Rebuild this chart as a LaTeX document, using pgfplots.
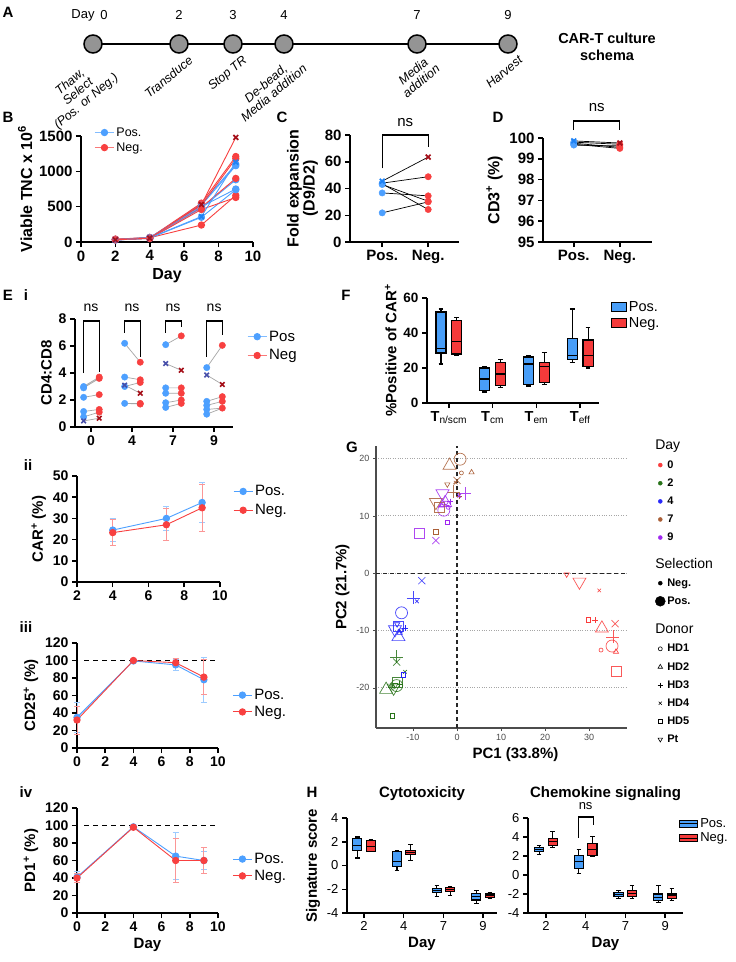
\documentclass[border=0pt]{standalone}
\usepackage{fontspec}
\setmainfont{Liberation Sans}
\usepackage{pgfplots}
\pgfplotsset{compat=1.18}
\usepgfplotslibrary{statistics}

\definecolor{posblue}{RGB}{77,160,255}
\definecolor{negred}{RGB}{248,64,64}
\definecolor{posx}{RGB}{30,130,245}
\definecolor{negx}{RGB}{165,15,25}
\definecolor{eix}{RGB}{72,80,170}
\definecolor{boxblue}{RGB}{72,158,248}
\definecolor{boxred}{RGB}{245,58,58}
\definecolor{gred}{RGB}{250,60,60}
\definecolor{ggreen}{RGB}{40,115,25}
\definecolor{gblue}{RGB}{40,40,250}
\definecolor{gbrown}{RGB}{170,95,55}
\definecolor{gpurple}{RGB}{160,40,240}

\newcommand\fs[1]{\fontsize{#1}{#1}\selectfont}
% box: position, low whisker, q1, median, q3, high whisker, fill
\newcommand\bx[7]{\addplot[boxplot prepared={draw direction=y, draw position=#1,
  lower whisker=#2, lower quartile=#3, median=#4, upper quartile=#5, upper whisker=#6,
  box extend=0.23, whisker extend=0.11}, draw=black, fill=#7, line width=1.1pt,
  forget plot] coordinates {};}

\pgfplotsset{
  prism/.style={
    scale only axis, anchor=south west, clip=false,
    axis lines=left,
    axis line style={line width=1.5pt},
    x axis line style={-}, y axis line style={-},
    tick style={black, line width=1.5pt},
    major tick length=5pt,
    tick align=outside,
    ticklabel style={font=\bfseries\fs{14}},
    label style={font=\bfseries\fs{15}},
    /pgf/number format/assume math mode=true,
    /pgf/number format/1000 sep={},
    legend style={draw=none, fill=none, font=\fs{15}, row sep=3pt},
    legend cell align=left,
    legend image code/.code={\draw[mark repeat=2,mark phase=2]
      plot coordinates {(0pt,0pt)(9.5pt,0pt)(19pt,0pt)};},
  },
  big/.style={ticklabel style={font=\bfseries\fs{15}}, label style={font=\bfseries\fs{16}}},
  pos/.style={posblue, line width=0.9pt, mark=*, mark size=3.2pt},
  neg/.style={negred, line width=0.9pt, mark=*, mark size=3.2pt},
  posX/.style={posblue, line width=0.9pt, mark=x, mark size=3.4pt,
    mark options={posx, line width=1.7pt}},
  negX/.style={negred, line width=0.9pt, mark=x, mark size=3.4pt,
    mark options={negx, line width=1.7pt}},
  legpos/.style={posblue!70, line width=0.9pt, mark=*, mark size=3.2pt, mark options={posblue}},
  legneg/.style={negred!70, line width=0.9pt, mark=*, mark size=3.2pt, mark options={negred}},
  ebpos/.style={error bars/.cd, y dir=both, y explicit,
    error bar style={posblue!55, line width=0.9pt},
    error mark options={rotate=90, posblue!55, mark size=3pt, line width=0.9pt}},
  ebneg/.style={error bars/.cd, y dir=both, y explicit,
    error bar style={negred!55, line width=0.9pt},
    error mark options={rotate=90, negred!55, mark size=3pt, line width=0.9pt}},
  gsc/.style={only marks, scatter, scatter src=explicit symbolic, forget plot,
    scatter/classes={d0={gred},d2={ggreen},d4={gblue},d7={gbrown},d9={gpurple}}},
}

\begin{document}
\begin{tikzpicture}
\path[use as bounding box, fill=white] (0pt,0pt) rectangle (736pt,-962pt);

% ---------------- A: schema and panel letters
\begin{scope}[x=1pt,y=-1pt]
\draw[line width=1.6pt] (93,44) -- (508,44);
\foreach \cx in {93,179,233,284,417,508}
  \filldraw[fill=black!42, draw=black, line width=1.5pt] (\cx,44) circle (9pt);
\node[font=\fs{13}] at (83,15) {Day};
\node[font=\fs{13}] at (104,15) {0};
\node[font=\fs{13}] at (179,15) {2};
\node[font=\fs{13}] at (233,15) {3};
\node[font=\fs{13}] at (284,15) {4};
\node[font=\fs{13}] at (417,15) {7};
\node[font=\fs{13}] at (508,15) {9};
\begin{scope}[every node/.style={rotate=40, anchor=north east, align=center,
    font=\itshape\fontsize{12.5}{12.5}\selectfont, inner sep=1pt}]
\node at (97,51) {Thaw,\\Select\\(Pos. or Neg.)};
\node at (188,53) {Transduce};
\node at (242,53) {Stop TR};
\node at (294,52) {De-bead,\\Media addition};
\node at (427,52) {Media\\addition};
\node at (518,53) {Harvest};
\end{scope}
\node[font=\bfseries\fs{14.5}, align=center] at (607,47) {CAR-T culture\\[2pt]schema};

\begin{scope}[every node/.style={font=\bfseries\fs{15}}]
\node at (8,12) {A};
\node at (8,117) {B};
\node at (282,117) {C};
\node at (498,117) {D};
\node at (8,295) {E};
\node at (26,295) {i};
\node at (28,465) {ii};
\node at (26,627) {iii};
\node at (26,792) {iv};
\node at (346,295) {F};
\node at (352,447) {G};
\node at (312,792) {H};
\end{scope}
\end{scope}

% ---------------- B
\begin{axis}[prism, big, at={(81pt,-242pt)}, width=172pt, height=106pt,
  xmin=0, xmax=10, ymin=0, ymax=1500,
  xtick={0,2,4,6,8,10}, ytick={0,500,1000,1500},
  xlabel={Day}, ylabel={Viable TNC x 10\textsuperscript{6}},
  legend style={at={(0.06,1.12)}, anchor=north west, font=\fs{12.5}, row sep=1pt}]
\addlegendimage{legpos}\addlegendentry{Pos.}
\addlegendimage{legneg}\addlegendentry{Neg.}
\addplot[pos, forget plot] coordinates {(2,30)(4,55)(7,540)(9,1100)};
\addplot[neg, forget plot] coordinates {(2,40)(4,60)(7,550)(9,1210)};
\addplot[pos, forget plot] coordinates {(2,35)(4,60)(7,520)(9,1080)};
\addplot[neg, forget plot] coordinates {(2,35)(4,55)(7,520)(9,1180)};
\addplot[pos, forget plot] coordinates {(2,30)(4,50)(7,480)(9,880)};
\addplot[neg, forget plot] coordinates {(2,40)(4,65)(7,490)(9,900)};
\addplot[pos, forget plot] coordinates {(2,35)(4,65)(7,500)(9,750)};
\addplot[neg, forget plot] coordinates {(2,35)(4,60)(7,240)(9,660)};
\addplot[pos, forget plot] coordinates {(2,30)(4,55)(7,350)(9,740)};
\addplot[neg, forget plot] coordinates {(2,30)(4,50)(7,460)(9,630)};
\addplot[posX, forget plot] coordinates {(2,25)(4,60)(7,360)(9,1130)};
\addplot[negX, forget plot] coordinates {(2,30)(4,55)(7,530)(9,1480)};
\end{axis}

% ---------------- C
\begin{axis}[prism, big, at={(350pt,-242pt)}, width=109pt, height=107pt,
  xmin=-0.7, xmax=1.67, ymin=0, ymax=80,
  xtick={0,1}, xticklabels={Pos.,Neg.}, ytick={0,20,40,60,80},
  ylabel={Fold expansion\\(D9/D2)}, ylabel style={align=center}]
\addplot[black, line width=0.7pt] coordinates {(0,45.5)(1,63.5)};
\addplot[black, line width=0.7pt] coordinates {(0,44)(1,48.8)};
\addplot[black, line width=0.7pt] coordinates {(0,43)(1,30.5)};
\addplot[black, line width=0.7pt] coordinates {(0,43.5)(1,24.3)};
\addplot[black, line width=0.7pt] coordinates {(0,36.7)(1,34.5)};
\addplot[black, line width=0.7pt] coordinates {(0,21.8)(1,30)};
\addplot[only marks, mark=*, mark size=3.2pt, posblue] coordinates {(0,44)(0,43)(0,43.5)(0,36.7)(0,21.8)};
\addplot[only marks, mark=*, mark size=3.2pt, negred] coordinates {(1,48.8)(1,30.5)(1,24.3)(1,34.5)(1,30)};
\addplot[only marks, mark=x, mark size=3.4pt, posx, line width=1.7pt] coordinates {(0,45.5)};
\addplot[only marks, mark=x, mark size=3.4pt, negx, line width=1.7pt] coordinates {(1,63.5)};
\draw[line width=1.3pt] (axis cs:0,55) |- (axis cs:1,80) -- (axis cs:1,71);
\node[font=\fs{15}] at (axis cs:0.5,89) {ns};
\end{axis}

% ---------------- D
\begin{axis}[prism, big, at={(543pt,-242pt)}, width=109pt, height=104pt,
  xmin=-0.67, xmax=1.7, ymin=95, ymax=100,
  xtick={0,1}, xticklabels={Pos.,Neg.}, ytick={95,96,97,98,99,100},
  ylabel={CD3\textsuperscript{+} (\%)}]
\addplot[black, line width=0.7pt] coordinates {(0,99.86)(1,99.76)};
\addplot[black, line width=0.7pt] coordinates {(0,99.8)(1,99.7)};
\addplot[black, line width=0.7pt] coordinates {(0,99.75)(1,99.55)};
\addplot[black, line width=0.7pt] coordinates {(0,99.7)(1,99.5)};
\addplot[black, line width=0.7pt] coordinates {(0,99.66)(1,99.62)};
\addplot[only marks, mark=*, mark size=3.2pt, posblue] coordinates {(0,99.8)(0,99.75)(0,99.7)(0,99.66)};
\addplot[only marks, mark=*, mark size=3.2pt, negred] coordinates {(1,99.7)(1,99.55)(1,99.5)(1,99.62)};
\addplot[only marks, mark=x, mark size=3.4pt, posx, line width=1.7pt] coordinates {(0,99.86)};
\addplot[only marks, mark=x, mark size=3.4pt, negx, line width=1.7pt] coordinates {(1,99.76)};
\draw[line width=1.3pt] (axis cs:0,100.38) |- (axis cs:1,100.82) -- (axis cs:1,100.38);
\node[font=\fs{15}] at (axis cs:0.5,101.45) {ns};
\end{axis}

% ---------------- E i
\begin{axis}[prism, at={(75pt,-427pt)}, width=158pt, height=108pt,
  xmin=0.61, xmax=4.46, ymin=0, ymax=8,
  xtick={1,2,3,4}, xticklabels={0,4,7,9}, ytick={0,2,4,6,8},
  ylabel={CD4:CD8},
  legend style={at={(1.07,0.93)}, anchor=north west}]
\addlegendimage{legpos}\addlegendentry{Pos}
\addlegendimage{legneg}\addlegendentry{Neg}
\addplot[black!35, line width=0.7pt, unbounded coords=jump, forget plot] coordinates {
  (0.82,3.0)(1.2,3.7) (nan,nan) (0.82,2.9)(1.2,3.6) (nan,nan) (0.82,2.2)(1.2,2.4) (nan,nan)
  (0.82,1.15)(1.2,1.3) (nan,nan) (0.82,0.75)(1.2,1.1) (nan,nan) (0.82,0.45)(1.2,0.65) (nan,nan)
  (1.82,6.2)(2.2,4.8) (nan,nan) (1.82,3.7)(2.2,3.5) (nan,nan) (1.82,3.0)(2.2,3.3) (nan,nan)
  (1.82,1.75)(2.2,1.75) (nan,nan) (1.82,1.75)(2.2,1.7) (nan,nan) (1.82,3.1)(2.2,2.5) (nan,nan)
  (2.82,6.1)(3.2,6.75) (nan,nan) (2.82,2.9)(3.2,2.9) (nan,nan) (2.82,2.5)(3.2,2.5) (nan,nan)
  (2.82,1.8)(3.2,2.0) (nan,nan) (2.82,1.45)(3.2,1.75) (nan,nan) (2.82,4.7)(3.2,4.2) (nan,nan)
  (3.82,4.4)(4.2,6.05) (nan,nan) (3.82,1.9)(4.2,2.25) (nan,nan) (3.82,1.6)(4.2,1.9) (nan,nan)
  (3.82,1.3)(4.2,1.4) (nan,nan) (3.82,0.95)(4.2,1.4) (nan,nan) (3.82,3.85)(4.2,3.15)};
\addplot[only marks, mark=*, mark size=3.2pt, posblue, forget plot] coordinates {
  (0.82,3.0)(0.82,2.9)(0.82,2.2)(0.82,1.15)(0.82,0.75)
  (1.82,6.2)(1.82,3.7)(1.82,3.0)(1.82,1.75)
  (2.82,6.1)(2.82,2.9)(2.82,2.5)(2.82,1.8)(2.82,1.45)
  (3.82,4.4)(3.82,1.9)(3.82,1.6)(3.82,1.3)(3.82,0.95)};
\addplot[only marks, mark=*, mark size=3.2pt, negred, forget plot] coordinates {
  (1.2,3.7)(1.2,3.6)(1.2,2.4)(1.2,1.3)(1.2,1.1)
  (2.2,4.8)(2.2,3.5)(2.2,3.3)(2.2,1.75)(2.2,1.7)
  (3.2,6.75)(3.2,2.9)(3.2,2.5)(3.2,2.0)(3.2,1.75)
  (4.2,6.05)(4.2,2.25)(4.2,1.9)(4.2,1.4)};
\addplot[only marks, mark=x, mark size=3.2pt, eix, line width=1.6pt, forget plot] coordinates {
  (0.82,0.45)(1.82,3.1)(2.82,4.7)(3.82,3.85)};
\addplot[only marks, mark=x, mark size=3.2pt, negx, line width=1.6pt, forget plot] coordinates {
  (1.2,0.65)(2.2,2.5)(3.2,4.2)(4.2,3.15)};
\draw[line width=1.2pt] (axis cs:0.82,4.0) |- (axis cs:1.2,7.85) -- (axis cs:1.2,4.1);
\draw[line width=1.2pt] (axis cs:1.82,7.0) |- (axis cs:2.2,7.85) -- (axis cs:2.2,5.2);
\draw[line width=1.2pt] (axis cs:2.82,7.0) |- (axis cs:3.2,7.85) -- (axis cs:3.2,7.4);
\draw[line width=1.2pt] (axis cs:3.82,5.2) |- (axis cs:4.2,7.85) -- (axis cs:4.2,6.8);
\node[font=\fs{14}] at (axis cs:1,8.85) {ns};
\node[font=\fs{14}] at (axis cs:2,8.85) {ns};
\node[font=\fs{14}] at (axis cs:3,8.85) {ns};
\node[font=\fs{14}] at (axis cs:4,8.85) {ns};
\end{axis}

% ---------------- E ii
\begin{axis}[prism, at={(77pt,-582pt)}, width=143pt, height=106pt,
  xmin=2, xmax=10, ymin=0, ymax=50,
  xtick={2,4,6,8,10}, ytick={0,10,20,30,40,50},
  ylabel={CAR\textsuperscript{+} (\%)},
  legend style={at={(1.07,0.95)}, anchor=north west}]
\addplot[pos, ebpos] coordinates {(4,24.5) +- (0,5.5) (7,30) +- (0,5.7) (9,37.5) +- (0,9.5)};
\addlegendentry{Pos.}
\addplot[neg, ebneg] coordinates {(4,23.3) +- (0,6.2) (7,27) +- (0,7.5) (9,35) +- (0,11)};
\addlegendentry{Neg.}
\end{axis}

% ---------------- E iii
\begin{axis}[prism, at={(77pt,-748pt)}, width=141pt, height=105pt,
  xmin=0, xmax=10, ymin=0, ymax=120,
  xtick={0,2,4,6,8,10}, ytick={0,20,40,60,80,100,120},
  ylabel={CD25\textsuperscript{+} (\%)},
  legend style={at={(1.08,0.6)}, anchor=north west, row sep=1pt}]
\draw[line width=1.4pt, dash pattern=on 5pt off 4pt] (axis cs:0.5,100) -- (axis cs:10,100);
\addplot[pos, ebpos] coordinates {(0,35) +- (0,17) (4,99.5) +- (0,0.3) (7,95) +- (0,6) (9,78) +- (0,26)};
\addlegendentry{Pos.}
\addplot[neg, ebneg] coordinates {(0,32) +- (0,16) (4,100) +- (0,0.2) (7,97.5) +- (0,4.5) (9,81) +- (0,20)};
\addlegendentry{Neg.}
\end{axis}

% ---------------- E iv
\begin{axis}[prism, at={(77pt,-913pt)}, width=141pt, height=105pt,
  xmin=0, xmax=10, ymin=0, ymax=120,
  xtick={0,2,4,6,8,10}, ytick={0,20,40,60,80,100,120},
  xlabel={Day}, ylabel={PD1\textsuperscript{+} (\%)},
  legend style={at={(1.08,0.61)}, anchor=north west, row sep=1pt}]
\draw[line width=1.4pt, dash pattern=on 5pt off 4pt] (axis cs:0.5,100) -- (axis cs:10,100);
\addplot[pos, ebpos] coordinates {(0,41) +- (0,6) (4,98.5) +- (0,1) (7,65) +- (0,27) (9,60) +- (0,10)};
\addlegendentry{Pos.}
\addplot[neg, ebneg] coordinates {(0,40) +- (0,5) (4,98) +- (0,1) (7,60) +- (0,25) (9,60) +- (0,15)};
\addlegendentry{Neg.}
\end{axis}

% ---------------- F
\begin{axis}[prism, at={(427pt,-403pt)}, width=172pt, height=105pt,
  xmin=0.5, xmax=4.43, ymin=0, ymax=60,
  xtick={1,2,3,4},
  xticklabels={T\textsubscript{\mdseries n/scm},T\textsubscript{\mdseries cm},T\textsubscript{\mdseries em},T\textsubscript{\mdseries eff}},
  ticklabel style={font=\bfseries\fs{13.5}},
  xticklabel style={font=\bfseries\fs{14.5}},
  ytick={0,20,40,60},
  ylabel={\%Positive of CAR\textsuperscript{+}},
  legend style={at={(1.05,1.01)}, anchor=north west, row sep=1pt, font=\fs{14.5}}]
\addlegendimage{legend image code/.code={\draw[fill=boxblue, line width=1.1pt] (0pt,-4.5pt) rectangle (15pt,4.5pt);}}
\addlegendentry{Pos.}
\addlegendimage{legend image code/.code={\draw[fill=boxred, line width=1.1pt] (0pt,-4.5pt) rectangle (15pt,4.5pt);}}
\addlegendentry{Neg.}
\bx{0.82}{22.3}{28.6}{31.4}{52}{53.7}{boxblue}
\bx{1.18}{26.9}{28}{34.9}{47.4}{49}{boxred}
\bx{1.82}{6.3}{7.4}{13.7}{20}{20.6}{boxblue}
\bx{2.18}{9}{9.8}{16.6}{22.9}{25.1}{boxred}
\bx{2.82}{9.7}{10.5}{22.3}{26.3}{27.3}{boxblue}
\bx{3.18}{10.5}{11.5}{21}{23.4}{29}{boxred}
\bx{3.82}{22.9}{25}{27.4}{37}{53.7}{boxblue}
\bx{4.18}{20}{21.1}{27.4}{36}{42.9}{boxred}
\end{axis}

% ---------------- G
\begin{axis}[at={(376pt,-728pt)}, anchor=south west, scale only axis,
  width=251pt, height=282pt, clip=false,
  xmin=-18.4, xmax=38.6, ymin=-27, ymax=22.2,
  axis lines=left, axis line style={line width=1.1pt, black!70},
  x axis line style={-}, y axis line style={-},
  tick style={black!70, line width=0.7pt}, major tick length=3pt, tick align=outside,
  xtick={-10,0,10,20,30}, ytick={-20,-10,0,10,20},
  ticklabel style={font=\fs{9}, text=black!70},
  /pgf/number format/assume math mode=true,
  ymajorgrids, grid style={dotted, black!35, line width=0.9pt},
  xlabel={PC1 (33.8\%)}, ylabel={PC2 (21.7\%)},
  label style={font=\bfseries\fs{15}},
  xlabel style={xshift=14pt},
  legend style={at={(1.1,1.035)}, anchor=north west, draw=none, fill=none,
    font=\bfseries\fs{11}, row sep=5pt},
  legend cell align=left,
  legend image code/.code={\draw plot coordinates {(4pt,0pt)};}]
\draw[line width=1.2pt, dash pattern=on 4pt off 3pt, black!85] (axis cs:-18.4,0) -- (axis cs:38.6,0);
\draw[line width=1.2pt, dash pattern=on 4pt off 3pt, black!85] (axis cs:0,-27) -- (axis cs:0,22.2);
\addlegendimage{empty legend}\addlegendentry{\mdseries\fs{14}\hspace*{-12pt}Day}
\addlegendimage{only marks, mark=*, mark size=2pt, gred}\addlegendentry{0}
\addlegendimage{only marks, mark=*, mark size=2pt, ggreen}\addlegendentry{2}
\addlegendimage{only marks, mark=*, mark size=2pt, gblue}\addlegendentry{4}
\addlegendimage{only marks, mark=*, mark size=2pt, gbrown}\addlegendentry{7}
\addlegendimage{only marks, mark=*, mark size=2pt, gpurple}\addlegendentry{9}
\addlegendimage{empty legend}\addlegendentry{\mdseries\fs{14}\hspace*{-12pt}\rule{0pt}{17pt}Selection}
\addlegendimage{only marks, mark=*, mark size=2pt, black}\addlegendentry{Neg.}
\addlegendimage{only marks, mark=*, mark size=5pt, black}\addlegendentry{Pos.}
\addlegendimage{empty legend}\addlegendentry{\mdseries\fs{14}\hspace*{-12pt}\rule{0pt}{19pt}Donor}
\addlegendimage{only marks, mark=o, mark size=2pt, black, line width=0.6pt}\addlegendentry{HD1}
\addlegendimage{only marks, mark=triangle, mark size=2.6pt, black, line width=0.6pt}\addlegendentry{HD2}
\addlegendimage{only marks, mark=+, mark size=2.6pt, black, line width=0.6pt}\addlegendentry{HD3}
\addlegendimage{only marks, mark=x, mark size=2.2pt, black, line width=0.6pt}\addlegendentry{HD4}
\addlegendimage{only marks, mark=square, mark size=2pt, black, line width=0.6pt}\addlegendentry{HD5}
\addlegendimage{only marks, mark=triangle, mark size=2.6pt, black, line width=0.6pt, mark options={rotate=180}}\addlegendentry{Pt}
% positive selection (large)
\addplot[gsc, mark=o, mark size=6pt, mark options={line width=0.7pt, draw opacity=0.85}] table[meta=d, row sep=\\] {
x y d\\ 35.2 -12.7 d0\\ -13.7 -19.6 d2\\ -12.6 -6.9 d4\\ 0.7 19.9 d7\\ -3.0 11.0 d9\\};
\addplot[gsc, mark=triangle, mark size=7.5pt, mark options={line width=0.7pt, draw opacity=0.85}] table[meta=d, row sep=\\] {
x y d\\ 32.9 -9.6 d0\\ -16.1 -20.3 d2\\ -13.3 -11.1 d4\\ -1.7 18.8 d7\\ -2.7 12.3 d9\\};
\addplot[gsc, mark=+, mark size=6.5pt, mark options={line width=0.7pt, draw opacity=0.85}] table[meta=d, row sep=\\] {
x y d\\ 35.4 -11.1 d0\\ -13.7 -14.6 d2\\ -9.9 -4.3 d4\\ -0.8 14.2 d7\\ 1.8 13.9 d9\\};
\addplot[gsc, mark=x, mark size=5pt, mark options={line width=0.7pt, draw opacity=0.85}] table[meta=d, row sep=\\] {
x y d\\ 35.9 -8.8 d0\\ -13.7 -15.5 d2\\ -8.0 -1.3 d4\\ 0.0 16.2 d7\\ -4.8 5.7 d9\\};
\addplot[gsc, mark=square, mark size=5pt, mark options={line width=0.7pt, draw opacity=0.85}] table[meta=d, row sep=\\] {
x y d\\ 36.2 -17.2 d0\\ -13.5 -19.1 d2\\ -13.3 -9.3 d4\\ -4.0 11.5 d7\\ -8.6 6.9 d9\\};
\addplot[gsc, mark=triangle, mark size=7.5pt, mark options={rotate=180, line width=0.7pt, draw opacity=0.85}] table[meta=d, row sep=\\] {
x y d\\ 27.8 -1.5 d0\\ -14.4 -20.0 d2\\ -14.1 -9.8 d4\\ -4.8 12.4 d7\\ -3.3 13.9 d9\\};
% negative selection (small)
\addplot[gsc, mark=o, mark size=2pt, mark options={line width=0.6pt}] table[meta=d, row sep=\\] {
x y d\\ 32.7 -13.4 d0\\ -14.6 -19.9 d2\\ -12.7 -10.0 d4\\ 1.0 17.5 d7\\ -2.0 11.5 d9\\};
\addplot[gsc, mark=triangle, mark size=3pt, mark options={line width=0.6pt}] table[meta=d, row sep=\\] {
x y d\\ 36.1 -13.7 d0\\ -15.0 -19.7 d2\\ -13.0 -10.4 d4\\ 3.3 17.6 d7\\ -3.5 11.8 d9\\};
\addplot[gsc, mark=+, mark size=3pt, mark options={line width=0.6pt}] table[meta=d, row sep=\\] {
x y d\\ 31.3 -8.2 d0\\ -13.0 -19.3 d2\\ -11.8 -9.6 d4\\ 0.5 13.4 d7\\ -1.5 12.5 d9\\};
\addplot[gsc, mark=x, mark size=2.5pt, mark options={line width=0.6pt}] table[meta=d, row sep=\\] {
x y d\\ 32.3 -3.0 d0\\ -11.8 -17.2 d2\\ -9.1 -4.9 d4\\ -0.3 15.8 d7\\ 0.5 13.5 d9\\};
\addplot[gsc, mark=square, mark size=2.3pt, mark options={line width=0.6pt}] table[meta=d, row sep=\\] {
x y d\\ 29.8 -8.1 d0\\ -14.7 -24.9 d2\\ -12.2 -17.7 d4\\ -4.8 7.2 d7\\ -2.2 8.9 d9\\};
\addplot[gsc, mark=triangle, mark size=3pt, mark options={rotate=180, line width=0.6pt}] table[meta=d, row sep=\\] {
x y d\\ 24.9 -0.2 d0\\ -14.0 -19.5 d2\\ -13.6 -8.9 d4\\ -2.2 15.5 d7\\ -2.5 12.3 d9\\};
\end{axis}

% ---------------- H cytotoxicity
\begin{axis}[prism, at={(347pt,-913pt)}, width=150pt, height=95pt,
  xmin=0.57, xmax=4.35, ymin=-4, ymax=4,
  xtick={1,2,3,4}, xticklabels={2,4,7,9}, ytick={-4,-2,0,2,4},
  ticklabel style={font=\fs{13}},
  xlabel={Day}, ylabel={Signature score},
  label style={font=\bfseries\fs{15}},
  title={Cytotoxicity}, title style={font=\bfseries\fs{15}, yshift=8pt}]
\bx{0.83}{0.63}{1.28}{1.7}{2.3}{2.4}{boxblue}
\bx{1.17}{1.15}{1.2}{1.6}{2.1}{2.2}{boxred}
\bx{1.83}{-0.45}{-0.1}{0.35}{1.2}{1.3}{boxblue}
\bx{2.17}{0.4}{0.9}{1.1}{1.3}{1.75}{boxred}
\bx{2.83}{-2.6}{-2.3}{-2.1}{-1.95}{-1.7}{boxblue}
\bx{3.17}{-2.5}{-2.2}{-2.05}{-1.85}{-1.75}{boxred}
\bx{3.83}{-3.2}{-2.9}{-2.6}{-2.35}{-2.1}{boxblue}
\bx{4.17}{-2.8}{-2.7}{-2.55}{-2.4}{-2.3}{boxred}
\end{axis}

% ---------------- H chemokine
\begin{axis}[prism, at={(528pt,-913pt)}, width=155pt, height=95pt,
  xmin=0.55, xmax=4.45, ymin=-4, ymax=6,
  xtick={1,2,3,4}, xticklabels={2,4,7,9}, ytick={-4,-2,0,2,4,6},
  ticklabel style={font=\fs{13}},
  xlabel={Day}, label style={font=\bfseries\fs{15}},
  title={Chemokine signaling}, title style={font=\bfseries\fs{15}, yshift=8pt},
  legend style={at={(0.955,1.04)}, anchor=north west, row sep=0pt, font=\fs{13}}]
\addlegendimage{legend image code/.code={\draw[fill=boxblue, line width=1.1pt] (0pt,-3.5pt) rectangle (18pt,3.5pt); \draw[line width=1.1pt] (0pt,0pt) -- (18pt,0pt);}}
\addlegendentry{Pos.}
\addlegendimage{legend image code/.code={\draw[fill=boxred, line width=1.1pt] (0pt,-3.5pt) rectangle (18pt,3.5pt); \draw[line width=1.1pt] (0pt,0pt) -- (18pt,0pt);}}
\addlegendentry{Neg.}
\bx{0.83}{2.2}{2.5}{2.7}{2.9}{3.1}{boxblue}
\bx{1.17}{2.9}{3.1}{3.5}{3.8}{4.6}{boxred}
\bx{1.83}{0.2}{0.7}{1.4}{2.05}{2.7}{boxblue}
\bx{2.17}{2.0}{2.1}{2.7}{3.3}{4.1}{boxred}
\bx{2.83}{-2.5}{-2.3}{-2.05}{-1.8}{-1.6}{boxblue}
\bx{3.17}{-2.5}{-2.3}{-1.9}{-1.6}{-1.1}{boxred}
\bx{3.83}{-2.9}{-2.7}{-2.35}{-2.0}{-1.1}{boxblue}
\bx{4.17}{-2.7}{-2.45}{-2.2}{-2.0}{-1.4}{boxred}
\draw[line width=1.2pt] (axis cs:1.82,3.9) |- (axis cs:2.2,6.1) -- (axis cs:2.2,5.3);
\node[font=\fs{13}] at (axis cs:2,7.3) {ns};
\end{axis}
\end{tikzpicture}
\end{document}
